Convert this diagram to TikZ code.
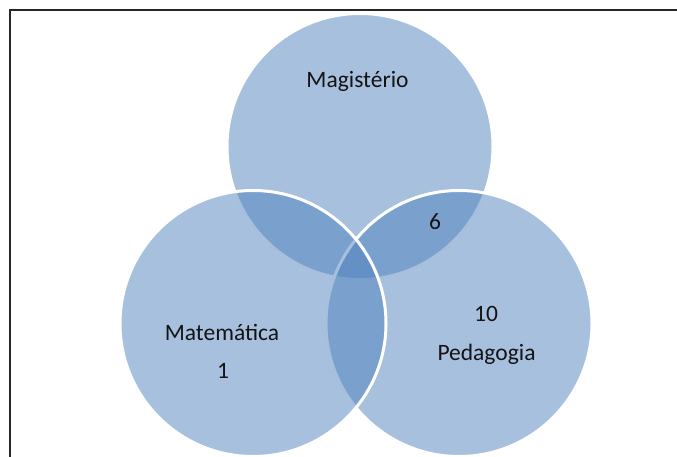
\documentclass[tikz,border=0pt]{standalone}
\usepackage{fontspec}
\setmainfont{Carlito}
\usetikzlibrary{positioning}

\definecolor{vennblue}{RGB}{79,129,189}
\definecolor{frametext}{RGB}{20,20,20}

\begin{document}
\begin{tikzpicture}[x=1pt, y=1pt, set/.style={circle, inner sep=0pt, minimum size=266pt, fill=vennblue, fill opacity=0.5, draw=white, draw opacity=1, line width=3pt}, lbl/.style={anchor=base, inner sep=0pt, text=frametext, font=\fontsize{23.5}{28}\selectfont}, frame/.style={draw=black!85, line width=2.6pt}]
      \useasboundingbox (0,0) rectangle (677,457);

      \clip (0,0) rectangle (677,457);

      \draw [frame] (10,-20) rectangle (720,447);

      \node [set] (mag) at (360,310.5) {};

      \node [set] (ped) at (459,133.5) {};

      \node [set] (mat) at (253,133.5) {};

      \node [lbl] (magTxt) at (357.5,369) {Magistério};

      \node [lbl] (magPed) at (435,227) {6};

      \node [lbl] (pedNum) at (486,135) {10};

      \node [lbl] (pedTxt) at (486.5,96) {Pedagogia};

      \node [lbl] (matTxt) at (222,116) {Matemática};

      \node [lbl] (matNum) at (223,78) {1};
    \end{tikzpicture}
\end{document}
